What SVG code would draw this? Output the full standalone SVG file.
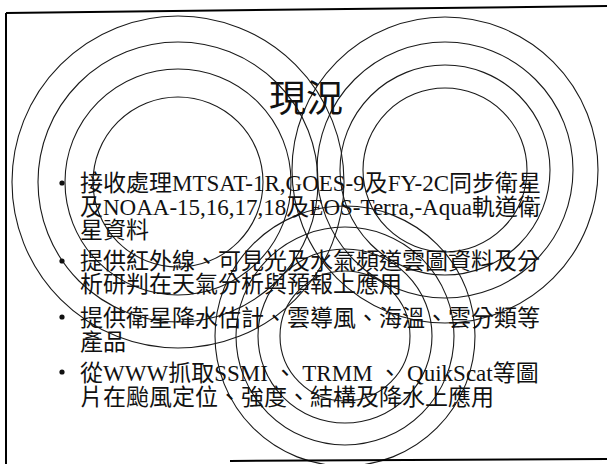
<svg xmlns="http://www.w3.org/2000/svg" width="607" height="464" viewBox="0 0 607 464">
<style>
.c{fill:none;stroke:#1a1a1a;stroke-width:1.1}
.f{fill:none;stroke:#000;stroke-width:2}
.t{font-family:"Liberation Serif","Noto Sans CJK TC",serif;font-size:23px;fill:#111}
.h{font-family:"Liberation Serif","Noto Sans CJK TC",serif;font-size:37px;fill:#111;text-anchor:middle}
.b{fill:#111}
</style>
<rect width="607" height="464" fill="#fff"/>
<g id="circles-left">
<circle class="c" cx="178" cy="182" r="166"/>
<circle class="c" cx="178" cy="182" r="140"/>
<circle class="c" cx="178" cy="182" r="113"/>
<circle class="c" cx="178" cy="182" r="85"/>
</g>
<g id="circles-right">
<circle class="c" cx="445" cy="170" r="153"/>
<circle class="c" cx="445" cy="170" r="128"/>
<circle class="c" cx="445" cy="170" r="105"/>
<circle class="c" cx="445" cy="170" r="82"/>
</g>
<g id="circles-bottom">
<circle class="c" cx="345" cy="336" r="130"/>
<circle class="c" cx="345" cy="336" r="109"/>
<circle class="c" cx="345" cy="336" r="87"/>
<circle class="c" cx="345" cy="336" r="65"/>
</g>
<g id="frame">
<line class="f" x1="6" y1="13" x2="607" y2="6"/>
<line class="f" x1="6" y1="13" x2="6" y2="464"/>
<line class="f" x1="230" y1="461" x2="607" y2="459"/>
</g>
<g id="title">
<text class="h" x="306" y="112">現況</text>
</g>
<g id="bullets">
<circle class="b" cx="62" cy="183" r="2.6"/>
<circle class="b" cx="62" cy="261" r="2.6"/>
<circle class="b" cx="62" cy="317" r="2.6"/>
<circle class="b" cx="62" cy="372" r="2.6"/>
</g>
<g id="body">
<text class="t" x="80" y="191">接收處理MTSAT-1R,GOES-9及FY-2C同步衛星</text>
<text class="t" x="80" y="215">及NOAA-15,16,17,18及EOS-Terra,-Aqua軌道衛</text>
<text class="t" x="80" y="238">星資料</text>
<text class="t" x="80" y="269">提供紅外線、可見光及水氣頻道雲圖資料及分</text>
<text class="t" x="80" y="292">析研判在天氣分析與預報上應用</text>
<text class="t" x="80" y="326">提供衛星降水估計、雲導風、海溫、雲分類等</text>
<text class="t" x="80" y="350">產品</text>
<text class="t" x="80" y="381">從WWW抓取SSMI 、 TRMM 、 QuikScat等圖</text>
<text class="t" x="80" y="405">片在颱風定位、強度、結構及降水上應用</text>
</g>
</svg>
